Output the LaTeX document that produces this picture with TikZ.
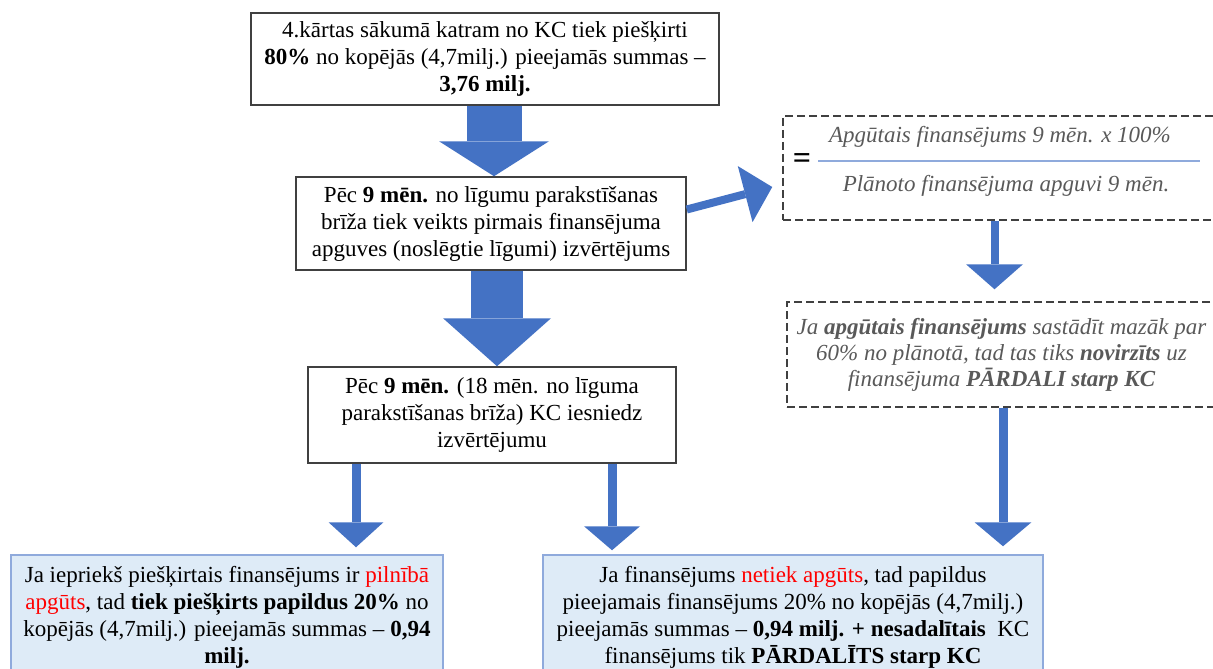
\documentclass[tikz,border=0pt]{standalone}
\usepackage{fontspec}
\setmainfont{Liberation Serif}
\usetikzlibrary{arrows.meta}
\definecolor{arrowblue}{HTML}{4472C4}
\definecolor{boxfill}{HTML}{DEEBF7}
\definecolor{boxline}{HTML}{8FAADC}
\definecolor{darkline}{HTML}{404040}
\definecolor{notegray}{HTML}{595959}
\definecolor{alertred}{HTML}{FF0000}
\begin{document}
\begin{tikzpicture}[x=1pt,y=-1pt,
  blockarrow/.style n args={3}{draw=arrowblue, line width=#1pt,
    -{Triangle[length=#2pt,width=#3pt,line width=0pt]}}]
\tikzstyle{every node}+=[inner sep=0pt, align=center, font=\fontsize{23}{27}\selectfont]
\tikzstyle{stepbox}=[draw=darkline, line width=1.5pt]
\tikzstyle{notebox}=[draw=darkline, line width=1.5pt, dash pattern=on 8pt off 4pt, text=notegray, font=\fontsize{23}{26}\selectfont\itshape]
\tikzstyle{ratiotext}=[text=notegray, font=\fontsize{23}{26}\selectfont\itshape]
\tikzstyle{resultbox}=[draw=boxline, fill=boxfill, line width=1.5pt]
\useasboundingbox (0,0) rectangle (1213,669);
% left column
\node[stepbox, minimum width=468, minimum height=92] (start) at (485,59)
  {4.kārtas sākumā katram no KC tiek piešķirti\\
   \textbf{80\%} no kopējās (4,7milj.) pieejamās summas --\\
   \textbf{3,76 milj.}};
\node[stepbox, minimum width=390, minimum height=93] (first) at (491,223.5)
  {Pēc \textbf{9 mēn.} no līgumu parakstīšanas\\
   brīža tiek veikts pirmais finansējuma\\
   apguves (noslēgtie līgumi) izvērtējums};
\node[stepbox, minimum width=368, minimum height=96] (second) at (492,415)
  {Pēc \textbf{9 mēn.} (18 mēn. no līguma\\
   parakstīšanas brīža) KC iesniedz\\
   izvērtējumu};
% right column
\node[notebox, minimum width=433, minimum height=104] (ratio) at (999.5,168) {};
\node[font=\fontsize{32}{32}\selectfont\bfseries] (equals) at (802,161) {=};
\coordinate (barl) at (818,161);
\coordinate (barr) at (1200,161);
\draw[boxline, line width=1.2pt] (barl) -- (barr);
\node[ratiotext] (num) at (1000,137) {Apgūtais finansējums 9 mēn. x 100\%};
\node[ratiotext] (den) at (1006,186) {Plānoto finansējuma apguvi 9 mēn.};
\node[notebox, minimum width=429, minimum height=105] (cut) at (1001.5,354.5)
  {Ja \textbf{apgūtais finansējums} sastādīt mazāk par\\
   60\% no plānotā, tad tas tiks \textbf{novirzīts} uz\\
   finansējuma \textbf{PĀRDALI starp KC}};
% results
\node[resultbox, minimum width=432, minimum height=124] (full) at (227,617)
  {Ja iepriekš piešķirtais finansējums ir \textcolor{alertred}{pilnībā}\\
   \textcolor{alertred}{apgūts}, tad \textbf{tiek piešķirts papildus 20\%} no\\
   kopējās (4,7milj.) pieejamās summas -- \textbf{0,94}\\
   \textbf{milj.}};
\node[resultbox, minimum width=500, minimum height=124] (notfull) at (793,617)
  {Ja finansējums \textcolor{alertred}{netiek apgūts}, tad papildus\\
   pieejamais finansējums 20\% no kopējās (4,7milj.)\\
   pieejamās summas -- \textbf{0,94 milj. + nesadalītais}\ \ KC\\
   finansējums tik \textbf{PĀRDALĪTS starp KC}};
% arrows
\draw[blockarrow={55}{35}{110}] ([xshift=9]start.south) -- ([xshift=3]first.north);
\draw[blockarrow={52}{48}{108}] ([xshift=6]first.south) -- ([xshift=5]second.north);
\draw[blockarrow={8}{28}{58}] ([yshift=14]first.east) -- ([xshift=-10,yshift=-19]ratio.west);
\draw[blockarrow={8}{25}{57}] ([xshift=-5]ratio.south) -- ([xshift=-7,yshift=12]cut.north);
\draw[blockarrow={9}{25}{55}] ([xshift=-136]second.south) -- ([xshift=129,yshift=7]full.north);
\draw[blockarrow={9}{24}{56}] ([xshift=120]second.south) -- ([xshift=-181,yshift=4]notfull.north);
\draw[blockarrow={9}{24}{57}] ([xshift=1.5]cut.south) -- ([xshift=210,yshift=8]notfull.north);
\end{tikzpicture}
\end{document}
